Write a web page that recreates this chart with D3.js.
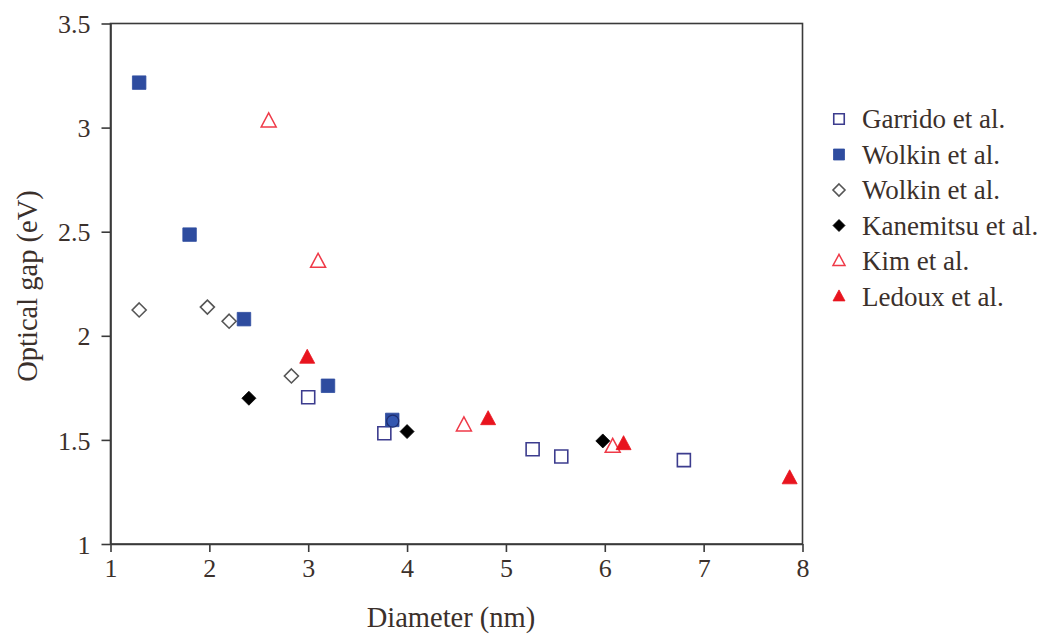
<!DOCTYPE html>
<html><head><meta charset="utf-8">
<script src="https://cdn.jsdelivr.net/npm/d3@7"></script>
<style>body{margin:0;background:#fff;}svg{display:block;}</style>
</head><body>
<svg id="c" width="1052" height="636"></svg>
<script>
// Data
const garrido   = [[3.0,1.705],[3.77,1.532],[5.27,1.455],[5.56,1.42],[6.8,1.403]];
const wolkinSq  = [[1.29,3.216],[1.8,2.486],[2.35,2.08],[3.2,1.76],[3.85,1.596]];
const wolkinDia = [[1.29,2.124],[1.98,2.138],[2.2,2.07],[2.83,1.807]];
const kanemitsu = [[2.4,1.70],[4.0,1.54],[5.98,1.495]];
const kim       = [[2.6,3.03],[3.1,2.356],[4.575,1.57],[6.08,1.467]];
const ledoux    = [[2.99,1.895],[4.82,1.60],[6.19,1.48],[7.87,1.316]];
const overlapCircle = [[3.855,1.59]];
const xTicks = [1,2,3,4,5,6,7,8];
const yTicks = [1,1.5,2,2.5,3,3.5];
const legendLabels = ["Garrido et al.","Wolkin et al.","Wolkin et al.","Kanemitsu et al.","Kim et al.","Ledoux et al."];

const svg = d3.select("#c");
const L=110.5, R=802.5, T=23.5, B=544;
const x = d3.scaleLinear().domain([1,8]).range([L,R]);
const y = d3.scaleLinear().domain([1,3.5]).range([B,T]);
const axisColor="#3a3a3a", textColor="#3b302b";
const font="'Liberation Serif','Times New Roman',serif";

// frame
svg.append("rect").attr("x",L).attr("y",T).attr("width",R-L).attr("height",B-T)
  .attr("fill","none").attr("stroke",axisColor).attr("stroke-width",1.6);

const xa = svg.append("g").attr("transform",`translate(0,${B})`)
  .call(d3.axisBottom(x).tickValues(xTicks).tickSize(8).tickSizeOuter(0).tickFormat(d3.format("d")));
const ya = svg.append("g").attr("transform",`translate(${L},0)`)
  .call(d3.axisLeft(y).tickValues(yTicks).tickSize(9).tickSizeOuter(0).tickFormat(d=>String(d)));
[xa,ya].forEach(g=>{
  g.select(".domain").attr("stroke",axisColor).attr("stroke-width",1.6);
  g.selectAll(".tick line").attr("stroke",axisColor).attr("stroke-width",1.6);
  g.selectAll(".tick text").attr("fill",textColor).attr("font-family",font).attr("font-size",26);
});
xa.selectAll(".tick text").attr("dy","0.71em").attr("y",15);
ya.selectAll(".tick text").attr("x",-20).attr("dy","0.35em");

svg.append("text").attr("x",451).attr("y",627).attr("text-anchor","middle")
  .attr("font-family",font).attr("font-size",28.5).attr("fill",textColor).text("Diameter (nm)");
svg.append("text").attr("transform","translate(37,286) rotate(-90)").attr("text-anchor","middle")
  .attr("font-family",font).attr("font-size",28.5).attr("fill",textColor).text("Optical gap (eV)");

// marker paths
const sq = s=>`M${-s/2},${-s/2}h${s}v${s}h${-s}Z`;
const dia = d=>`M0,${-d/2}L${d/2},0L0,${d/2}L${-d/2},0Z`;
const tri = (w,h)=>`M0,${-h*0.6}L${w/2},${h*0.4}L${-w/2},${h*0.4}Z`;

const series = [
  {data:garrido,  path:sq(13),   lpath:sq(10.5), fill:"none",   stroke:"#3c3c8e", sw:1.6},
  {data:wolkinSq, path:sq(13.5), lpath:sq(11),   fill:"#2e4c9f",stroke:"#2e4c9f",sw:0.8},
  {data:wolkinDia,path:dia(14),  lpath:dia(12),  fill:"none",   stroke:"#555555", sw:1.6},
  {data:kanemitsu,path:dia(14),  lpath:dia(12),  fill:"#000",   stroke:"#000",    sw:0.8},
  {data:kim,      path:tri(15,14),lpath:tri(12,11),fill:"none", stroke:"#ef3a48", sw:1.5},
  {data:ledoux,   path:tri(15,14),lpath:tri(12,11),fill:"#e8141e",stroke:"#e8141e",sw:0.8}
];
const drawOrder=[0,2,3,4,1,5];
drawOrder.forEach(i=>{
  const s=series[i];
  svg.append("g").selectAll("path").data(s.data).join("path")
    .attr("transform",d=>`translate(${x(d[0])},${y(d[1])})`)
    .attr("d",s.path).attr("fill",s.fill).attr("stroke",s.stroke).attr("stroke-width",s.sw);
});
svg.append("g").selectAll("circle").data(overlapCircle).join("circle")
  .attr("cx",d=>x(d[0])).attr("cy",d=>y(d[1])).attr("r",6)
  .attr("fill","#3457b0").attr("stroke","#1e2d6e").attr("stroke-width",1.2);

// legend
const ly0=119, ldy=35.5;
const lg = svg.append("g");
legendLabels.forEach((lab,i)=>{
  const s=series[i]; const yy=ly0+i*ldy;
  lg.append("path").attr("transform",`translate(839,${yy})`).attr("d",s.lpath)
    .attr("fill",s.fill).attr("stroke",s.stroke).attr("stroke-width",s.sw);
  lg.append("text").attr("x",862).attr("y",yy).attr("dy","0.35em")
    .attr("font-family",font).attr("font-size",27).attr("fill",textColor).text(lab);
});
</script>
</body></html>
